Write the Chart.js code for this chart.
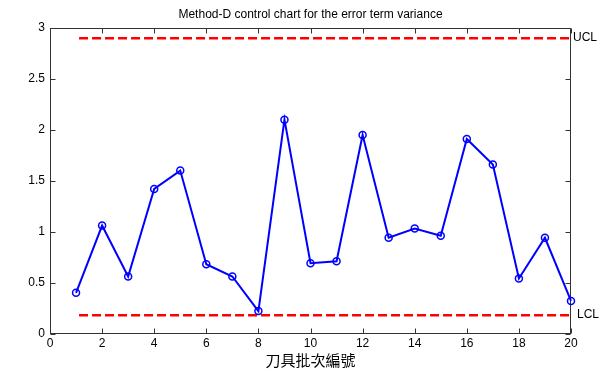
<!DOCTYPE html>
<html>
<head>
<meta charset="utf-8">
<script src="https://cdn.jsdelivr.net/npm/chart.js@4.4.0/dist/chart.umd.min.js"></script>
<style>
  html, body { margin: 0; padding: 0; background: #fff; }
  canvas { display: block; }
</style>
</head>
<body>
<canvas id="controlChart" width="611" height="371"></canvas>
<script>
// tool batch numbers and the error term variance for each batch
const batchNo = [1, 2, 3, 4, 5, 6, 7, 8, 9, 10, 11, 12, 13, 14, 15, 16, 17, 18, 19, 20];
const variance = [0.40, 1.06, 0.56, 1.42, 1.60, 0.68, 0.56, 0.22, 2.10, 0.69,
                  0.71, 1.95, 0.94, 1.03, 0.96, 1.91, 1.66, 0.54, 0.94, 0.32];

// control limits and the batch range they span
const ucl = 2.90;
const lcl = 0.18;
const limitSpan = [1, 20];

// axis ticks
const xTicks = [0, 2, 4, 6, 8, 10, 12, 14, 16, 18, 20];
const yTicks = [0, 0.5, 1, 1.5, 2, 2.5, 3];

const latin = '"Liberation Sans", Arial, sans-serif';

// box around the plot with inward tick marks on all four sides
const axesBox = {
    id: 'axesBox',
    beforeDatasetsDraw(chart) {
        const { ctx, chartArea: a, scales: { x, y } } = chart;
        const L = Math.round(a.left) + 0.5, R = Math.round(a.right) - 0.5;
        const T = Math.round(a.top) + 0.5, B = Math.round(a.bottom) - 0.5;
        ctx.save();
        ctx.strokeStyle = '#333';
        ctx.lineWidth = 1;
        ctx.strokeRect(L, T, R - L, B - T);
        ctx.beginPath();
        xTicks.forEach(v => {
            const px = Math.round(x.getPixelForValue(v)) + 0.5;
            ctx.moveTo(px, B); ctx.lineTo(px, B - 5);
            ctx.moveTo(px, T); ctx.lineTo(px, T + 5);
        });
        yTicks.forEach(v => {
            const py = Math.round(y.getPixelForValue(v)) + 0.5;
            ctx.moveTo(L, py); ctx.lineTo(L + 5, py);
            ctx.moveTo(R, py); ctx.lineTo(R - 5, py);
        });
        ctx.stroke();
        ctx.restore();
    }
};

// UCL / LCL text to the right of the plot
const limitLabels = {
    id: 'limitLabels',
    afterDatasetsDraw(chart) {
        const { ctx, scales: { x, y } } = chart;
        const xr = x.getPixelForValue(limitSpan[1]);
        ctx.save();
        ctx.fillStyle = '#000';
        ctx.font = '12px ' + latin;
        ctx.textAlign = 'left';
        ctx.textBaseline = 'middle';
        ctx.fillText('UCL', xr + 2, y.getPixelForValue(ucl));
        ctx.fillText('LCL', xr + 6, y.getPixelForValue(lcl));
        ctx.restore();
    }
};

const ctx = document.getElementById('controlChart').getContext('2d');
new Chart(ctx, {
    type: 'scatter',
    data: {
        datasets: [{
            data: batchNo.map((b, i) => ({ x: b, y: variance[i] })),
            showLine: true,
            borderColor: '#0000ff',
            borderWidth: 2,
            pointRadius: 3.5,
            pointBorderWidth: 1.5,
            pointBorderColor: '#0000ff',
            pointBackgroundColor: 'rgba(0,0,0,0)',
            clip: false
        }, {
            data: limitSpan.map(v => ({ x: v, y: ucl })),
            showLine: true,
            borderColor: '#ff0000',
            borderWidth: 2.5,
            borderDash: [9, 4],
            borderDashOffset: 10,
            pointRadius: 0
        }, {
            data: limitSpan.map(v => ({ x: v, y: lcl })),
            showLine: true,
            borderColor: '#ff0000',
            borderWidth: 2.5,
            borderDash: [9, 4],
            borderDashOffset: 10,
            pointRadius: 0
        }]
    },
    options: {
        responsive: false,
        animation: false,
        events: [],
        layout: { padding: { top: 0, right: 40, bottom: 0, left: 0 } },
        plugins: {
            legend: { display: false },
            tooltip: { enabled: false },
            title: {
                display: true,
                fullSize: false,
                text: 'Method-D control chart for the error term variance',
                color: '#000',
                font: { family: latin, size: 12, weight: 'normal' },
                padding: { top: 7, bottom: 6.6 }
            }
        },
        scales: {
            x: {
                type: 'linear',
                min: 0,
                max: 20,
                grid: { display: false, drawTicks: false },
                border: { display: false },
                ticks: { color: '#000', font: { family: latin, size: 12 }, padding: 3, maxRotation: 0 },
                title: {
                    display: true,
                    text: '刀具批次編號',
                    color: '#000',
                    font: { family: '"Noto Sans CJK TC", "Noto Sans CJK SC", sans-serif', size: 15 },
                    padding: { top: 0, bottom: 2 }
                },
                afterBuildTicks(s) { s.ticks = xTicks.map(v => ({ value: v })); },
                afterFit(s) { s.height = 37.5; }
            },
            y: {
                type: 'linear',
                min: 0,
                max: 3,
                grid: { display: false, drawTicks: false },
                border: { display: false },
                ticks: { color: '#000', font: { family: latin, size: 12 }, padding: 5, callback: v => String(v) },
                afterBuildTicks(s) { s.ticks = yTicks.map(v => ({ value: v })); },
                afterFit(s) { s.width = 50; }
            }
        }
    },
    plugins: [axesBox, limitLabels]
});
</script>
</body>
</html>
